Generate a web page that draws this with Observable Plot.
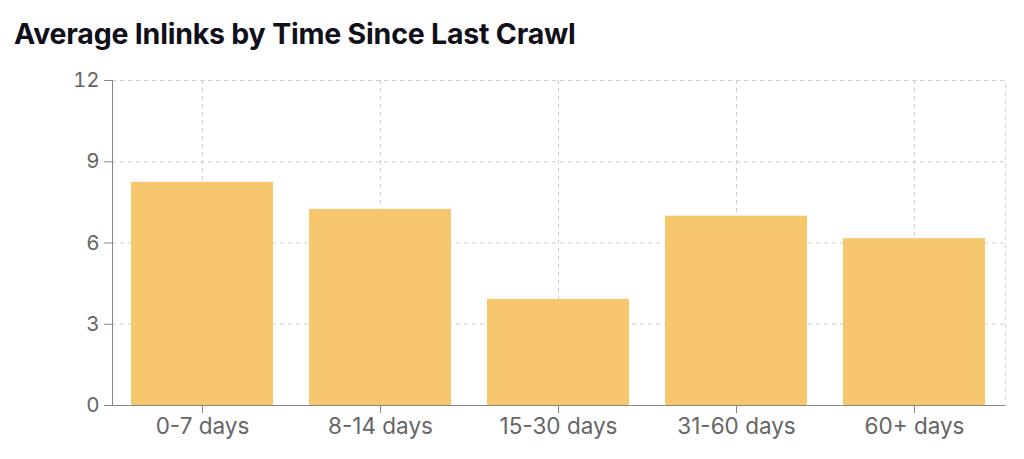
<!DOCTYPE html>
<html>
<head>
<meta charset="utf-8">
<script src="https://cdn.jsdelivr.net/npm/d3@7"></script>
<script src="https://cdn.jsdelivr.net/npm/@observablehq/plot@0.6"></script>
<style>
  html, body { margin: 0; padding: 0; background: #fff; }
  #title { font-family: Inter, "Open Sans", sans-serif; font-weight: 700; font-size: 28.5px; color: #10101a; position: absolute; left: 14px; top: 16px; margin: 0; line-height: 36px; letter-spacing: -0.2px; }
  #chart { position: absolute; left: 0; top: 60px; }
</style>
</head>
<body>
<div id="title">Average Inlinks by Time Since Last Crawl</div>
<div id="chart"></div>
<script>
const categories = ["0-7 days", "8-14 days", "15-30 days", "31-60 days", "60+ days"];
const avgInlinks = [8.24, 7.24, 3.92, 6.99, 6.16];
const yTicks = [0, 3, 6, 9, 12];

const data = categories.map((c, i) => ({range: c, value: avgInlinks[i]}));
const gridStyle = {stroke: "#cfcfcf", strokeOpacity: 1, strokeDasharray: "4,4", strokeWidth: 1};

const chart = Plot.plot({
  width: 1024,
  height: 399,
  marginTop: 20,
  marginBottom: 54,
  marginLeft: 112,
  marginRight: 19,
  style: {fontFamily: "Inter, 'Open Sans', sans-serif", background: "#fff"},
  x: {type: "band", domain: categories, paddingInner: 0.2, paddingOuter: 0.1, label: null},
  y: {domain: [0, 12], label: null},
  marks: [
    Plot.frame(gridStyle),
    Plot.gridY(yTicks, gridStyle),
    Plot.gridX(gridStyle),
    Plot.barY(data, {x: "range", y: "value", fill: "#f6c76c"}),
    Plot.axisY(yTicks, {tickSize: 8, tickPadding: 5, fontSize: 20.5, stroke: "#888", fill: "#666", label: null}),
    Plot.axisX({tickSize: 8, tickPadding: 5, fontSize: 22.5, stroke: "#888", fill: "#666", label: null}),
    Plot.frame({anchor: "left", stroke: "#888"}),
    Plot.ruleY([0], {stroke: "#888"})
  ]
});
document.getElementById("chart").appendChild(chart);
</script>
</body>
</html>
